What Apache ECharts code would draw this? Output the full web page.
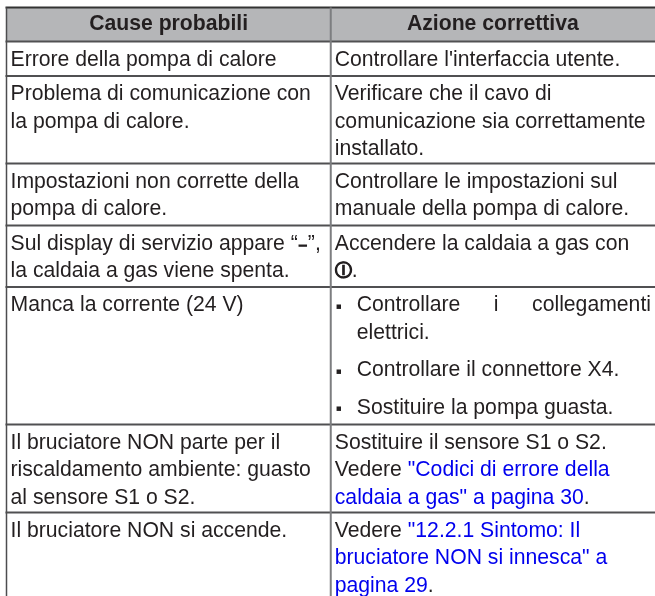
<!DOCTYPE html>
<html lang="it">
<head>
<meta charset="UTF-8">
<title>Cause probabili</title>
<script src="https://cdn.jsdelivr.net/npm/echarts@6/dist/echarts.min.js"></script>
<style>html,body{margin:0;padding:0;background:#fff}</style>
</head>
<body>
<div id="main" style="width:655px;height:596px;"></div>
<script type="text/javascript">
var columns = ['Cause probabili', 'Azione correttiva'];
var rowHeights = [34, 34.5, 87.5, 62, 61.5, 137.5, 88, 84];
var causes = [
    ['Errore della pompa di calore'],
    ['Problema di comunicazione con', 'la pompa di calore.'],
    ['Impostazioni non corrette della', 'pompa di calore.'],
    ['Sul display di servizio appare “{d|₋}”,', 'la caldaia a gas viene spenta.'],
    ['Manca la corrente (24 V)'],
    ['Il bruciatore NON parte per il', 'riscaldamento ambiente: guasto', 'al sensore S1 o S2.'],
    ['Il bruciatore NON si accende.']
];
var actions = [
    ["Controllare l'interfaccia utente."],
    ['Verificare che il cavo di', 'comunicazione sia correttamente', 'installato.'],
    ['Controllare le impostazioni sul', 'manuale della pompa di calore.'],
    ['Accendere la caldaia a gas con', '{p|Ⓘ}.'],
    ['▪ Controllare i collegamenti', '  elettrici.', '▪ Controllare il connettore X4.', '▪ Sostituire la pompa guasta.'],
    ['Sostituire il sensore S1 o S2.', 'Vedere {l|"Codici di errore della}', '{l|caldaia a gas" a pagina 30}.'],
    ['Vedere {l|"12.2.1 Sintomo: Il}', '{l|bruciatore NON si innesca" a}', '{l|pagina 29}.']
];

var myChart = echarts.init(document.getElementById('main'));
var font = '21.2px "Liberation Sans"';
var ink = '#231f20';
var rich = {
    l: { fill: '#0000ee', font: font },
    d: { fill: ink, font: 'bold 19px "DejaVu Sans"', stroke: ink, lineWidth: 1 },
    p: { fill: ink, font: 'bold 17px "DejaVu Sans"', stroke: ink, lineWidth: 0.7 }
};
var measure = document.createElement('canvas').getContext('2d');
measure.font = font;

// running row edges, on the y axis
var edges = [0];
for (var i = 0; i < rowHeights.length; i++) {
    edges.push(edges[i] + rowHeights[i]);
}

// one entry per text line: [column, y, index into lines]
var lines = [];
var lineData = [];
function addCell(col, row, cell) {
    var y = edges[row + 1] + 18.5;
    for (var j = 0; j < cell.length; j++) {
        if (j > 0) {
            y += 27.4;
            if (cell[j].charAt(0) === '▪') y += 10;
        }
        lines.push(cell[j]);
        lineData.push([col, y, lines.length - 1]);
    }
}
for (var r = 0; r < causes.length; r++) {
    addCell(0, r, causes[r]);
    addCell(1, r, actions[r]);
}

var edgeData = [];
for (var k = 0; k < edges.length - 1; k++) {
    edgeData.push([0, edges[k], k]);
}

function renderRow(params, api) {
    var band = api.size([1, 0])[0];
    var left = api.coord([0, 0])[0] - band / 2;
    var top = api.coord([0, api.value(1)])[1];
    var idx = api.value(2);
    var children = [];
    if (idx === 0) {
        var bottom = api.coord([0, edges[1]])[1];
        children.push({ type: 'rect', shape: { x: left, y: top, width: band * 2, height: bottom - top }, style: { fill: '#b5b6b8' } });
        children.push({ type: 'text', style: { text: columns[0], x: left + band / 2, y: (top + bottom) / 2, align: 'center', verticalAlign: 'middle', font: 'bold 21.2px "Liberation Sans"', fill: ink } });
        children.push({ type: 'text', style: { text: columns[1], x: left + band * 1.5, y: (top + bottom) / 2, align: 'center', verticalAlign: 'middle', font: 'bold 21.2px "Liberation Sans"', fill: ink } });
    }
    children.push({ type: 'line', shape: { x1: left - 1, y1: top, x2: left + band * 2, y2: top }, style: { stroke: idx === 0 ? '#333' : '#505052', lineWidth: 2 } });
    return { type: 'group', children: children };
}

function renderFrame(params, api) {
    var band = api.size([1, 0])[0];
    var col = api.value(0);
    var x = api.coord([col, 0])[0] - band / 2;
    var y1 = api.coord([0, 0])[1];
    var y2 = api.coord([0, edges[edges.length - 1]])[1];
    return { type: 'line', shape: { x1: x, y1: y1, x2: x, y2: y2 }, style: { stroke: col === 0 ? '#4d4d4f' : '#7d7e80', lineWidth: col === 0 ? 1.5 : 2 } };
}

function renderLine(params, api) {
    var band = api.size([1, 0])[0];
    var x = api.coord([api.value(0), 0])[0] - band / 2 + 4;
    var y = api.coord([0, api.value(1)])[1];
    var text = lines[api.value(2)];
    var base = { y: y, verticalAlign: 'middle', font: font, fill: ink, rich: rich };
    var bullet = text.charAt(0) === '▪';
    if (bullet || text.indexOf('  ') === 0) {
        var children = [];
        var rest = text.replace(/^▪?\s+/, '');
        var tx = x + 22;
        if (bullet) {
            children.push({ type: 'text', style: { text: '▪', x: x + 1, y: y + 1, verticalAlign: 'middle', fill: ink, font: '9px "DejaVu Sans"' } });
        }
        if (rest === 'Controllare i collegamenti') {
            // justified line: spread the words up to the right edge of the cell
            var words = rest.split(' ');
            var total = 0;
            for (var i = 0; i < words.length; i++) total += measure.measureText(words[i]).width;
            var gap = (x + band - 8 - tx - total) / (words.length - 1);
            for (var w = 0; w < words.length; w++) {
                children.push({ type: 'text', style: echarts.util.extend({ text: words[w], x: tx }, base) });
                tx += measure.measureText(words[w]).width + gap;
            }
        } else {
            children.push({ type: 'text', style: echarts.util.extend({ text: rest, x: tx }, base) });
        }
        return { type: 'group', children: children };
    }
    return { type: 'text', style: echarts.util.extend({ text: text, x: x }, base) };
}

myChart.setOption({
    animation: false,
    backgroundColor: '#fff',
    tooltip: { show: false },
    grid: { left: 6.5, right: -3.5, top: 7.5, bottom: 0 },
    xAxis: { type: 'category', data: columns, show: false },
    yAxis: { type: 'value', inverse: true, min: 0, max: 588.5, show: false },
    series: [
        { type: 'custom', silent: true, clip: false, renderItem: renderRow, data: edgeData, encode: { x: 0, y: 1 } },
        { type: 'custom', silent: true, clip: false, renderItem: renderFrame, data: [[0], [1]], encode: { x: 0 } },
        { type: 'custom', silent: true, clip: false, renderItem: renderLine, data: lineData, encode: { x: 0, y: 1 } }
    ]
});
</script>
</body>
</html>
